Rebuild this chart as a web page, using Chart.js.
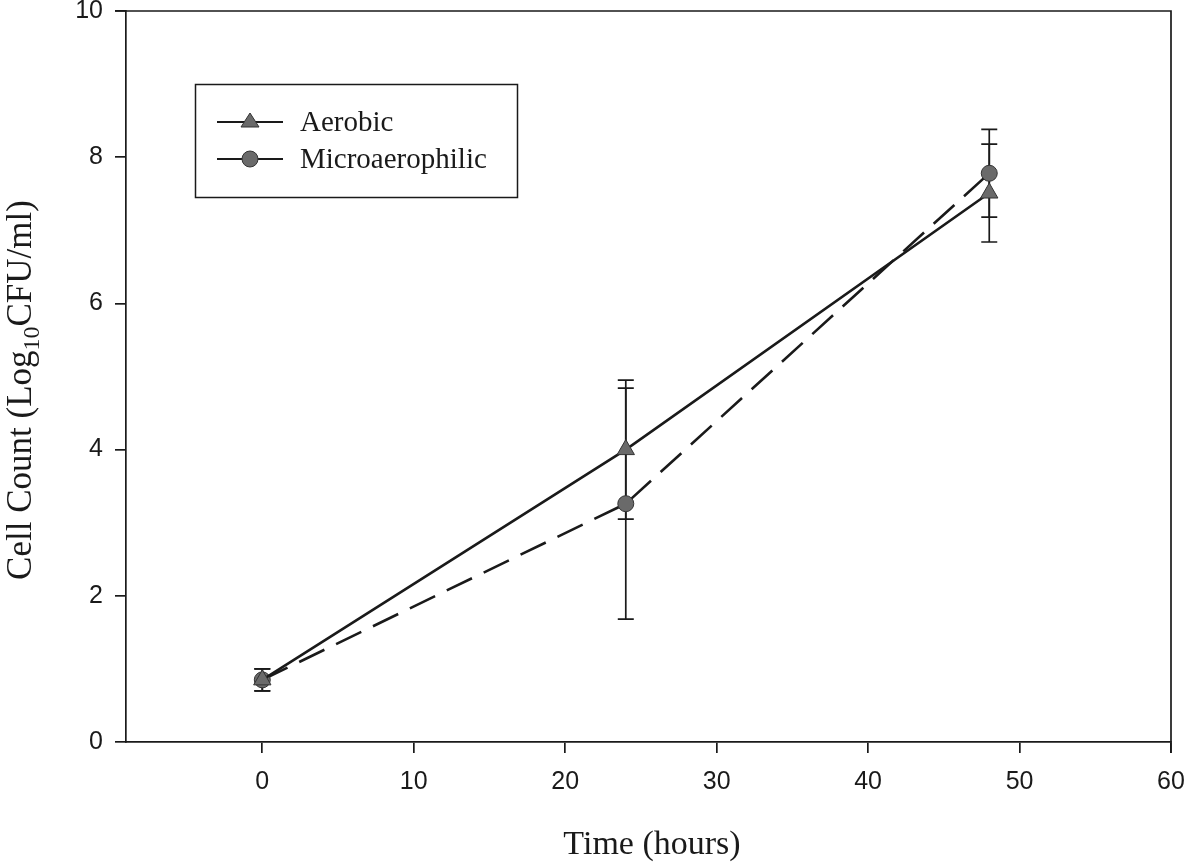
<!DOCTYPE html>
<html>
<head>
<meta charset="utf-8">
<title>Cell Count vs Time</title>
<script src="https://cdn.jsdelivr.net/npm/chart.js@4.4.1/dist/chart.umd.min.js"></script>
<style>
  html, body { margin: 0; padding: 0; background: #fff; }
  #wrap { width: 1189px; height: 862px; }
</style>
</head>
<body>
<div id="wrap"><canvas id="growthChart" width="1189" height="862"></canvas></div>
<script>
// sampling times (hours)
const hours = [0, 24, 48];

// mean counts, log10 CFU/ml
const aerobic = [0.85, 4.0, 7.51];
const microaerophilic = [0.85, 3.26, 7.78];

// standard deviations
const aerobicErr = [0.15, 0.95, 0.67];
const microErr = [0.15, 1.58, 0.6];

const xTicks = [0, 10, 20, 30, 40, 50, 60];
const yTicks = [0, 2, 4, 6, 8, 10];

const INK = '#1a1a1a';
const MARK = '#6a6a6a';

function toPoints(ys) {
    return hours.map((h, i) => ({ x: h, y: ys[i] }));
}

// vertical error bars with caps, drawn behind the markers
const errorBars = {
    id: 'errorBars',
    beforeDatasetsDraw(chart) {
        const ctx = chart.ctx;
        const xs = chart.scales.x;
        const ys = chart.scales.y;
        const sets = [[aerobic, aerobicErr], [microaerophilic, microErr]];
        ctx.save();
        ctx.strokeStyle = INK;
        ctx.lineWidth = 1.7;
        sets.forEach(([vals, errs]) => {
            hours.forEach((h, i) => {
                const px = xs.getPixelForValue(h);
                const top = ys.getPixelForValue(vals[i] + errs[i]);
                const bot = ys.getPixelForValue(vals[i] - errs[i]);
                ctx.beginPath();
                ctx.moveTo(px, top);
                ctx.lineTo(px, bot);
                ctx.moveTo(px - 8, top);
                ctx.lineTo(px + 8, top);
                ctx.moveTo(px - 8, bot);
                ctx.lineTo(px + 8, bot);
                ctx.stroke();
            });
        });
        ctx.restore();
    }
};

// small marker used in the legend box
function legendMarker(ctx, style, x, y) {
    ctx.fillStyle = MARK;
    ctx.strokeStyle = '#333';
    ctx.lineWidth = 1;
    ctx.beginPath();
    if (style === 'triangle') {
        ctx.moveTo(x, y - 9);
        ctx.lineTo(x + 9, y + 5);
        ctx.lineTo(x - 9, y + 5);
        ctx.closePath();
    } else {
        ctx.arc(x, y, 8, 0, Math.PI * 2);
    }
    ctx.fill();
    ctx.stroke();
}

// frame, axis titles and the boxed legend
const decorations = {
    id: 'decorations',
    afterDraw(chart) {
        const ctx = chart.ctx;
        const a = chart.chartArea;
        ctx.save();
        ctx.strokeStyle = INK;
        ctx.lineWidth = 1.7;
        ctx.beginPath();
        ctx.moveTo(a.left - 11, a.top);
        ctx.lineTo(a.right, a.top);
        ctx.lineTo(a.right, a.bottom + 11);
        ctx.stroke();

        ctx.fillStyle = INK;
        ctx.font = '34px "Liberation Serif"';
        ctx.textAlign = 'center';
        ctx.textBaseline = 'alphabetic';
        ctx.fillText('Time (hours)', 652, 854);

        // rotated y title with subscript
        const mainA = 'Cell Count (Log';
        const sub = '10';
        const mainB = 'CFU/ml)';
        const mainFont = '35px "Liberation Serif"';
        const subFont = '24px "Liberation Serif"';
        ctx.font = mainFont;
        const wA = ctx.measureText(mainA).width;
        const wB = ctx.measureText(mainB).width;
        ctx.font = subFont;
        const wS = ctx.measureText(sub).width;
        const total = wA + wS + wB;
        ctx.translate(31, 390);
        ctx.rotate(-Math.PI / 2);
        ctx.textAlign = 'left';
        let tx = -total / 2;
        ctx.font = mainFont;
        ctx.fillText(mainA, tx, 0);
        tx += wA;
        ctx.font = subFont;
        ctx.fillText(sub, tx, 8);
        tx += wS;
        ctx.font = mainFont;
        ctx.fillText(mainB, tx, 0);
        ctx.setTransform(1, 0, 0, 1, 0, 0);

        // legend
        ctx.strokeStyle = INK;
        ctx.lineWidth = 1.5;
        ctx.strokeRect(195.5, 84.5, 322, 113);
        const rows = [
            { label: chart.data.datasets[0].label, y: 122, style: 'triangle' },
            { label: chart.data.datasets[1].label, y: 159, style: 'circle' }
        ];
        rows.forEach(r => {
            ctx.lineWidth = 2.2;
            ctx.strokeStyle = INK;
            ctx.beginPath();
            ctx.moveTo(217, r.y);
            ctx.lineTo(283, r.y);
            ctx.stroke();
            legendMarker(ctx, r.style, 250, r.y);
            ctx.fillStyle = INK;
            ctx.font = '29px "Liberation Serif"';
            ctx.textAlign = 'left';
            ctx.textBaseline = 'middle';
            ctx.fillText(r.label, 300, r.y + 1);
        });
        ctx.restore();
    }
};

function fixBox(w, h) {
    return function (scale) {
        if (w !== null) scale.width = w;
        if (h !== null) scale.height = h;
        scale.paddingTop = 0;
        scale.paddingBottom = 0;
        scale.paddingLeft = 0;
        scale.paddingRight = 0;
    };
}

new Chart(document.getElementById('growthChart'), {
    type: 'scatter',
    data: {
        datasets: [
            {
                label: 'Aerobic',
                data: toPoints(aerobic),
                showLine: true,
                borderColor: INK,
                borderWidth: 2.6,
                pointStyle: 'triangle',
                pointRadius: 10,
                pointBackgroundColor: MARK,
                pointBorderColor: '#333',
                pointBorderWidth: 1,
                tension: 0
            },
            {
                label: 'Microaerophilic',
                data: toPoints(microaerophilic),
                showLine: true,
                borderColor: INK,
                borderWidth: 2.6,
                borderDash: [28, 13],
                pointStyle: 'circle',
                pointRadius: 8,
                pointBackgroundColor: MARK,
                pointBorderColor: '#333',
                pointBorderWidth: 1,
                tension: 0
            }
        ]
    },
    options: {
        responsive: false,
        animation: false,
        devicePixelRatio: 1,
        layout: { padding: { top: 10, right: 18, left: 0, bottom: 0 } },
        plugins: {
            legend: { display: false },
            tooltip: { enabled: false }
        },
        scales: {
            x: {
                type: 'linear',
                min: -9,
                max: 60,
                afterBuildTicks: s => { s.ticks = xTicks.map(v => ({ value: v })); },
                afterFit: fixBox(null, 120),
                border: { display: true, color: INK, width: 1.7 },
                grid: { display: true, drawOnChartArea: false, drawTicks: true, tickLength: 11, color: INK, lineWidth: 1.7 },
                ticks: {
                    color: INK,
                    padding: 14,
                    maxRotation: 0,
                    font: { family: '"Liberation Sans"', size: 25 }
                }
            },
            y: {
                type: 'linear',
                min: 0,
                max: 10,
                afterBuildTicks: s => { s.ticks = yTicks.map(v => ({ value: v })); },
                afterFit: fixBox(126, null),
                border: { display: true, color: INK, width: 1.7 },
                grid: { display: true, drawOnChartArea: false, drawTicks: true, tickLength: 11, color: INK, lineWidth: 1.7 },
                ticks: {
                    color: INK,
                    padding: 12,
                    font: { family: '"Liberation Sans"', size: 25 }
                }
            }
        }
    },
    plugins: [errorBars, decorations]
});
</script>
</body>
</html>
